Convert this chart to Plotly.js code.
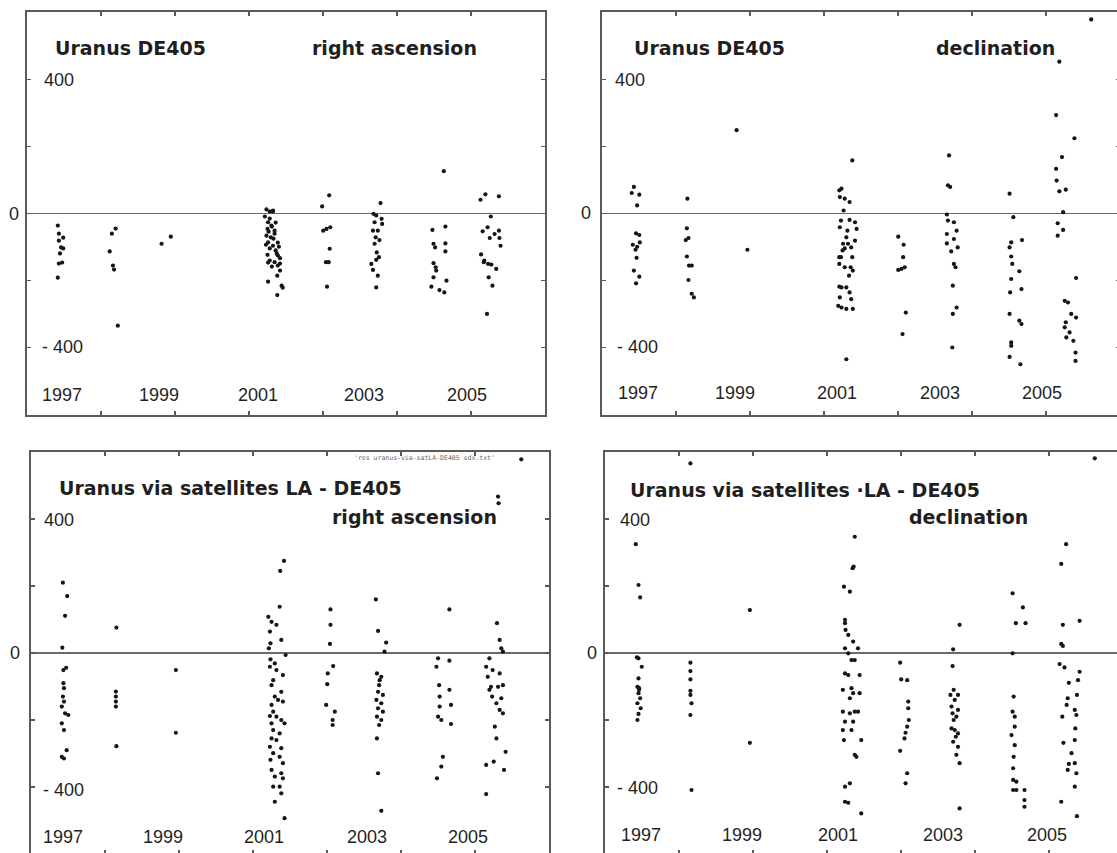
<!DOCTYPE html>
<html>
<head>
<meta charset="utf-8">
<script src="https://cdn.plot.ly/plotly-3.0.1.min.js"></script>
<style>
html,body{margin:0;padding:0;background:#fff;overflow:hidden;}
#chart{width:1130px;height:860px;}
</style>
</head>
<body>
<div id="chart"></div>
<script>
// ---------- DATA (decimal year, residual in mas) ----------
// Panel 1: Uranus DE405, right ascension
const raTopYear = [1997.71,1997.73,1997.81,1997.73,1997.77,1997.81,1997.75,1997.73,1997.79,1997.71,
  1998.78,1998.71,1998.67,1998.73,1998.75,1998.82,
  1999.63,1999.80,
  2001.57,2001.63,2001.69,2001.60,2001.66,2001.59,2001.61,2001.72,2001.57,2001.65,2001.60,2001.69,2001.74,2001.78,2001.82,2001.59,2001.63,2001.72,2001.78,2001.82,2001.77,2001.60,2001.85,2001.77,2001.69,2001.72,2001.78,2001.76,2001.82,2001.87,2001.63,2001.67,2001.70,2001.63,2001.56,2001.74,2001.80,2001.67,2001.54,2001.60,
  2002.60,2002.73,2002.62,2002.68,2002.75,2002.74,2002.67,2002.72,2002.69,
  2003.68,2003.55,2003.60,2003.70,2003.57,2003.71,2003.54,2003.63,2003.59,2003.66,2003.57,2003.61,2003.65,2003.60,2003.51,2003.54,2003.63,2003.60,
  2004.64,2004.88,2004.66,2004.69,2004.88,2004.88,2004.66,2004.70,2004.71,2004.66,2004.90,2004.62,2004.77,2004.86,2004.85,
  2005.53,2005.62,2005.87,2005.72,2005.57,2005.66,2005.70,2005.79,2005.87,2005.88,2005.90,2005.54,2005.60,2005.67,2005.73,2005.82,2005.68,2005.75,2005.65,2005.59];
const raTopVal = [-36,-60,-72,-81,-101,-104,-119,-149,-146,-191,
  -45,-60,-113,-155,-167,-334,
  -90,-69,
  12,6,6,-26,-36,-46,-54,-51,-66,-71,-86,-96,-110,-125,-133,-123,-140,-145,-155,-170,-185,-203,-215,-243,9,-60,-87,-119,-149,-221,-15,-39,-75,-104,-93,-27,-99,-158,-9,-146,
  21,54,-51,-46,-41,-105,-145,-145,-218,
  31,-1,-6,-16,-26,-31,-51,-51,-71,-79,-90,-116,-130,-138,-150,-168,-185,-220,
  -49,-39,-90,-101,-89,-113,-148,-160,-170,-190,-200,-218,-228,-235,126,
  41,57,51,-9,-53,-41,-73,-61,-51,-73,-96,-122,-140,-150,-152,-165,-190,-215,-299,-145];

// Panel 2: Uranus DE405, declination
const decTopYear = [1997.73,1997.69,1997.83,1997.79,1997.77,1997.83,1997.71,1997.79,1997.76,1997.78,1997.73,1997.83,1997.77,1997.84,
  1998.72,1998.71,1998.69,1998.74,1998.71,1998.75,1998.80,1998.74,1998.80,1998.84,
  1999.63,1999.83,
  2001.77,2001.57,2001.54,2001.63,2001.72,2001.56,2001.72,2001.82,2001.54,2001.85,2001.66,2001.60,2001.69,2001.75,2001.56,2001.77,2001.63,2001.74,2001.78,2001.57,2001.66,2001.72,2001.54,2001.75,2001.57,2001.66,2001.78,2001.66,2001.53,2001.53,2001.53,2001.53,2001.51,2001.61,2001.68,2001.59,2001.71,2001.82,2001.63,
  2002.62,2002.72,2002.71,2002.62,2002.68,2002.74,2002.76,2002.70,
  2003.56,2003.54,2003.58,2003.52,2003.54,2003.65,2003.70,2003.52,2003.65,2003.72,2003.60,2003.52,2003.65,2003.68,2003.63,2003.70,2003.63,2003.62,
  2004.68,2004.75,2004.91,2004.71,2004.68,2004.71,2004.73,2004.86,2004.71,2004.90,2004.69,2004.68,2004.86,2004.90,2004.71,2004.71,2004.68,2004.88,
  2005.60,2005.54,2005.88,2005.65,2005.54,2005.55,2005.60,2005.72,2005.67,2005.57,2005.67,2005.57,2005.91,2005.70,2005.76,2005.82,2005.91,2005.72,2005.70,2005.79,2005.73,2005.86,2005.90,2005.90,2006.19];
const decTopVal = [79,61,56,24,-59,-64,-93,-99,-108,-132,-170,-188,-208,-86,
  44,-44,-79,-73,-128,-155,-155,-198,-239,-250,
  248,-108,
  158,74,49,44,34,-21,-19,-26,-41,-46,-71,-90,-90,-101,-130,-130,-160,-160,-170,-220,-220,-235,-250,-255,-280,-284,-284,-434,69,-130,-150,-218,-275,9,-51,-110,-185,-81,-104,
  -69,-93,-130,-168,-165,-160,-295,-359,
  173,84,79,-3,-21,-26,-51,-61,-76,-101,-113,-89,-150,-160,-215,-280,-299,-399,
  59,-11,-79,-86,-101,-128,-150,-172,-195,-225,-235,-299,-319,-329,-384,-394,-427,-449,
  452,293,224,168,133,98,66,71,4,-29,-49,-66,-192,-260,-265,-299,-310,-324,-339,-354,-369,-379,-414,-439,578];

// Panel 3: Uranus via satellites LA - DE405, right ascension
const raSatYear = [1997.73,1997.81,1997.77,1997.72,1997.74,1997.79,1997.74,1997.75,1997.73,1997.75,1997.71,1997.77,1997.83,1997.71,1997.75,1997.80,1997.71,1997.75,
  1998.72,1998.71,1998.71,1998.71,1998.71,1998.72,
  1999.82,1999.82,
  2001.82,2001.75,2001.74,2001.53,2001.59,2001.68,2001.56,2001.77,2001.57,2001.54,2001.85,2001.57,2001.65,2001.56,2001.68,2001.80,2001.62,2001.59,2001.77,2001.65,2001.71,2001.59,2001.80,2001.62,2001.56,2001.68,2001.77,2001.59,2001.83,2001.62,2001.74,2001.59,2001.68,2001.56,2001.77,2001.62,2001.74,2001.57,2001.80,2001.59,2001.77,2001.65,2001.80,2001.62,2001.74,2001.77,2001.65,2001.83,
  2002.68,2002.68,2002.67,2002.73,2002.63,2002.62,2002.60,2002.76,2002.72,2002.72,
  2003.52,2003.56,2003.71,2003.68,2003.54,2003.62,2003.58,2003.56,2003.65,2003.53,2003.62,2003.56,2003.65,2003.54,2003.62,2003.58,2003.54,2003.56,2003.62,2003.59,
  2004.67,2004.88,2004.64,2004.69,2004.88,2004.70,2004.91,2004.70,2004.67,2004.73,2004.91,2004.76,2004.73,2004.65,2004.88,
  2005.76,2005.81,2005.84,2005.87,2005.62,2005.56,2005.68,2005.59,2005.81,2005.78,2005.87,2005.62,2005.67,2005.84,2005.75,2005.81,2005.87,2005.72,2005.75,2005.92,2005.56,2005.70,2005.89,2005.56,2005.65,2005.78,2005.79,2006.21];
const raSatVal = [210,170,111,16,-51,-44,-90,-105,-130,-145,-160,-180,-185,-210,-230,-290,-310,-315,
  76,-115,-130,-145,-160,-278,
  -51,-238,
  275,245,138,108,93,84,64,39,29,14,-6,-19,-31,-41,-51,-66,-81,-96,-116,-130,-140,-155,-145,-175,-188,-190,-200,-210,-210,-230,-240,-255,-260,-280,-284,-299,-310,-319,-329,-349,-359,-369,-374,-399,-399,-419,-444,-493,
  130,84,27,-39,-61,-93,-155,-175,-200,-215,
  160,66,31,4,-61,-71,-96,-116,-125,-140,-150,-165,-175,-190,-200,-215,-255,-359,-471,-81,
  -16,-23,-41,-96,-110,-130,-155,-160,-190,-200,-212,-310,-339,-374,130,
  89,39,14,4,-16,-41,-51,-71,-61,-101,-96,-110,-130,-135,-150,-170,-180,-220,-255,-295,-334,-324,-349,-421,-101,467,447,578];

// Panel 4: Uranus via satellites LA - DE405, declination
const decSatYear = [1997.71,1997.76,1997.79,1997.76,1997.82,1997.76,1997.74,1997.77,1997.76,1997.79,1997.74,1997.80,1997.76,1997.74,1997.77,1997.73,
  1998.72,1998.72,1998.72,1998.72,1998.72,1998.72,1998.74,1998.72,1998.74,
  1999.82,1999.82,
  2001.76,2001.72,2001.74,2001.56,2001.67,2001.58,2001.58,2001.59,2001.64,2001.73,2001.58,2001.82,2001.64,2001.70,2001.76,2001.58,2001.64,2001.85,2001.54,2001.70,2001.73,2001.85,2001.67,2001.54,2001.67,2001.76,2001.82,2001.58,2001.73,2001.54,2001.70,2001.56,2001.88,2001.76,2001.79,2001.58,2001.67,2001.58,2001.64,2001.88,
  2002.60,2002.62,2002.73,2002.75,2002.75,2002.76,2002.73,2002.70,2002.68,2002.60,2002.73,2002.70,
  2003.70,2003.58,2003.57,2003.59,2003.67,2003.61,2003.55,2003.67,2003.57,2003.64,2003.59,2003.55,2003.61,2003.67,2003.63,2003.58,2003.67,2003.64,2003.70,2003.70,2003.53,
  2004.68,2004.87,2004.74,2004.92,2004.68,2004.70,2004.68,2004.72,2004.72,2004.66,2004.72,2004.70,2004.69,2004.69,2004.75,2004.75,2004.90,2004.90,2004.90,2004.69,
  2005.67,2005.58,2005.92,2005.61,2005.58,2005.61,2005.55,2005.64,2005.72,2005.89,2005.92,2005.70,2005.87,2005.68,2005.60,2005.83,2005.86,2005.84,2005.62,2005.83,2005.77,2005.72,2005.83,2005.70,2005.86,2005.83,2005.58,2005.87,2006.20];
const decSatVal = [325,203,166,-16,-41,-76,-101,-105,-120,-135,-150,-165,-182,-200,-110,-13,
  566,-29,-54,-79,-113,-125,-150,-185,-409,
  128,-268,
  347,253,258,198,183,99,89,69,54,34,14,14,-1,-21,-21,-61,-66,-66,-110,-105,-120,-120,-135,-175,-180,-175,-175,-205,-205,-230,-230,-260,-260,-304,-310,-399,-389,-444,-447,-479,
  -29,-79,-81,-145,-165,-200,-220,-238,-255,-292,-359,-389,
  84,11,-39,-110,-125,-140,-160,-170,-180,-190,-200,-225,-230,-240,-250,-265,-280,-304,-329,-464,-125,
  178,136,89,89,-1,-130,-175,-190,-220,-245,-275,-310,-344,-379,-384,-409,-409,-439,-459,-409,
  325,266,96,84,27,21,-33,-43,-89,-81,-56,-135,-125,-155,-190,-170,-185,-225,-268,-260,-299,-331,-329,-349,-359,-399,-444,-487,581];

// Text content
const yearLabels = ['1997','1999','2001','2003','2005'];
const yLabelTop = '400', yLabelZero = '0', yLabelBottom = '- 400';
const panelTitles = ['Uranus DE405','Uranus DE405','Uranus via satellites LA - DE405','Uranus via satellites \u00b7LA - DE405'];
const panelSubtitles = ['right ascension','declination','right ascension','declination'];
const keyText = "'res uranus-via-satLA-DE405 sdx.txt'";

// ---------- LAYOUT (pixel geometry of the scanned figure) ----------
const W = 1130, H = 860;
const fx = p => p / W, fy = p => (H - p) / H;
const panels = [
  {l:27,  r:545,  t:12,  b:415, title:[53,48], sub:[310,48],
   y400:[42,80], y0:[14,214], ym400:[40,347], years:[62,159,258,364,467], yearY:395},
  {l:602, r:1120, t:12,  b:415, title:[632,48], sub:[934,48],
   y400:[613,80], y0:[586,213], ym400:[615,347], years:[638,735,837,940,1042], yearY:393},
  {l:31,  r:549,  t:452, b:854, title:[57,488], sub:[330,517],
   y400:[42,520], y0:[15,653], ym400:[41,790], years:[63,163,264,367,468], yearY:837},
  {l:605, r:1123, t:452, b:854, title:[628,490], sub:[907,517],
   y400:[618,520], y0:[592,653], ym400:[615,788], years:[641,742,838,943,1047], yearY:835}
];
const xs = [raTopYear, decTopYear, raSatYear, decSatYear];
const ys = [raTopVal, decTopVal, raSatVal, decSatVal];

const X0 = 1997.14, DT = 500/365.25, X1 = X0 + 7*DT;
const frameColor = '#5a5a5a';
const data = [], annotations = [];
const layout = {
  width: W, height: H, margin:{l:0,r:0,t:0,b:0},
  paper_bgcolor:'#fff', plot_bgcolor:'#fff', showlegend:false,
  annotations: annotations
};
const titleFont = {family:'DejaVu Sans, Verdana, sans-serif', size:19, color:'#1f1f1f'};
const labelFont = {family:'Liberation Sans, Arial, sans-serif', size:18, color:'#1f1f1f'};

function ann(text, x, y, xanchor, font){
  annotations.push({text:text, x:fx(x), y:fy(y), xref:'paper', yref:'paper',
    xanchor:xanchor, yanchor:'middle', showarrow:false, font:font});
}

panels.forEach((p, i) => {
  const n = i === 0 ? '' : String(i+1);
  data.push({type:'scatter', mode:'markers', x: xs[i], y: ys[i],
    xaxis:'x'+n, yaxis:'y'+n, cliponaxis:true,
    marker:{size:4.2, color:'#151515'}, hoverinfo:'skip'});
  layout['xaxis'+n] = {domain:[fx(p.l), fx(p.r)], range:[X0, X1], anchor:'y'+n,
    showgrid:false, zeroline:false, showticklabels:false,
    ticks:'inside', ticklen:4, tickwidth:1.2, tickcolor:frameColor,
    tick0:X0, dtick:DT, showline:true, linecolor:frameColor, linewidth:1.6, mirror:'ticks', fixedrange:true};
  layout['yaxis'+n] = {domain:[fy(p.b), fy(p.t)], range:[-600, 600], anchor:'x'+n,
    showgrid:false, zeroline:true, zerolinecolor:'#6a6a6a', zerolinewidth:1.6,
    showticklabels:false, ticks:'inside', ticklen:4, tickwidth:1.2, tickcolor:frameColor,
    tick0:0, dtick:200, showline:true, linecolor:frameColor, linewidth:1.6, mirror:'ticks', fixedrange:true};
  ann('<b>'+panelTitles[i]+'</b>', p.title[0], p.title[1], 'left', titleFont);
  ann('<b>'+panelSubtitles[i]+'</b>', p.sub[0], p.sub[1], 'left', titleFont);
  ann(yLabelTop, p.y400[0], p.y400[1], 'left', labelFont);
  ann(yLabelZero, p.y0[0], p.y0[1], 'center', labelFont);
  ann(yLabelBottom, p.ym400[0], p.ym400[1], 'left', labelFont);
  yearLabels.forEach((t, k) => ann(t, p.years[k], p.yearY, 'center', labelFont));
});
ann(keyText, 497, 458, 'right', {family:'DejaVu Sans Mono, monospace', size:6.5, color:'#666'});

Plotly.newPlot('chart', data, layout, {staticPlot:true, displayModeBar:false});
</script>
</body>
</html>
